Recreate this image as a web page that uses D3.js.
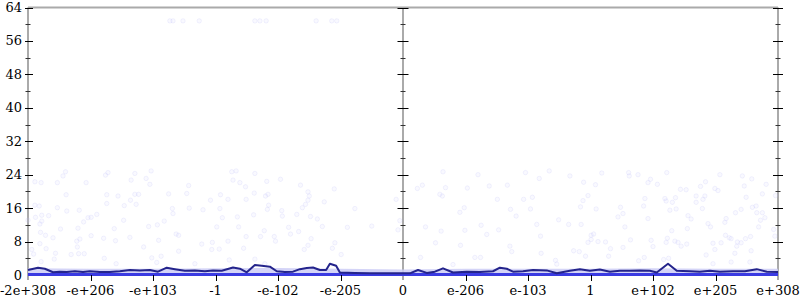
<!DOCTYPE html>
<html>
<head>
<meta charset="utf-8">
<script src="https://cdn.jsdelivr.net/npm/d3@7"></script>
<style>
  body { margin: 0; background: #fff; }
  svg text { font-family: "DejaVu Serif", serif; font-size: 13px; fill: #000; }
</style>
</head>
<body>
<svg id="chart" width="800" height="300"></svg>
<script>
// x position is in tick units: -6 (-2e+308) ... 0 ... 6 (e+308)
var xTickLabels = ['-2e+308', '-e+206', '-e+103', '-1', '-e-102', '-e-205', '0',
                   'e-206', 'e-103', '1', 'e+102', 'e+205', 'e+308'];
var yTicks = [0, 8, 16, 24, 32, 40, 48, 56, 64];
var yMinorTicks = [4, 12, 20, 28, 36, 44, 52, 60];

// running mean (dark line)
var meanX = [-6.0, -5.84, -5.73, -5.6, -5.49, -5.38, -5.25, -5.12, -5.01, -4.85, -4.69, -4.53, -4.37,
             -4.21, -4.05, -3.92, -3.78, -3.65, -3.49, -3.33, -3.17, -3.04, -2.9, -2.72, -2.61, -2.5,
             -2.37, -2.26, -2.13, -2.02, -1.89, -1.76, -1.65, -1.54, -1.44, -1.33, -1.23, -1.17, -1.07,
             -1.01, -0.77, -0.53, -0.29, -0.05, 0.11, 0.24, 0.38, 0.51, 0.64, 0.8, 1.02, 1.23, 1.44,
             1.55, 1.66, 1.76, 1.92, 2.08, 2.3, 2.46, 2.67, 2.83, 2.99, 3.15, 3.31, 3.47, 3.63, 3.79,
             3.95, 4.06, 4.24, 4.38, 4.59, 4.75, 4.91, 5.07, 5.28, 5.47, 5.66, 5.82, 6.0];
var meanY = [1.2, 1.75, 1.5, 0.65, 0.8, 0.7, 0.9, 0.7, 0.9, 0.7, 0.7, 0.9, 1.2,
             1.1, 1.2, 0.8, 1.75, 1.4, 1.0, 1.1, 0.9, 1.1, 1.0, 1.8, 1.5, 0.65,
             2.4, 2.2, 2.0, 0.9, 0.7, 0.8, 1.4, 1.7, 1.8, 1.2, 1.2, 2.7, 2.2,
             0.6, 0.5, 0.4, 0.4, 0.4, 0.4, 1.2, 0.5, 0.8, 1.6, 0.6, 0.8, 0.7, 0.9,
             1.75, 1.5, 0.8, 0.9, 1.2, 1.1, 0.4, 1.0, 1.4, 1.0, 1.3, 0.8, 1.0, 1.0, 1.1,
             1.0, 0.6, 2.7, 1.0, 0.9, 0.8, 1.0, 0.8, 0.9, 0.9, 1.4, 0.8, 0.7];

// top of the dense band of samples near zero
var bandX = [-6, -5, -4, -3, -2, -1, 0, 1, 2, 3, 4, 5, 6];
var bandY = [1.6, 1.5, 1.5, 1.6, 1.7, 1.5, 1.3, 1.5, 1.5, 1.5, 1.6, 1.5, 1.5];

// scattered samples
var dotX = [-5.40, -5.44, -5.89, -5.79, -5.53, -5.07, -4.76, -4.72, -4.29, -4.11, -4.03, -4.35, -4.05,
  -3.43, -2.74, -2.67, -2.37, -2.72, -2.61, -2.52, -2.18, -1.96, -1.64, -1.10, -1.52, -1.50,
  -5.39, -4.74, -4.56, -4.29, -4.23, -3.75, -3.46, -2.92, -3.08, -2.80, -2.51, -2.38, -2.20,
  -2.16, -2.15, -1.52, -1.56, -1.26, -0.11, -5.89, -5.82, -5.53, -5.18, -5.38, -4.74, -4.46,
  -4.36, -4.27, -3.69, -3.42, -3.20, -2.93, -2.17, -1.94, -1.61, -0.77, -5.78, -5.67, -5.88,
  -5.78, -5.81, -6.0, -5.11, -5.04, -4.99, -4.90, -4.47, -3.68, -3.82, -3.93, -4.07, -2.89,
  -2.65, -2.39, -1.93, -1.70, -1.48, -1.37, -1.29, -0.89, -0.50, -0.05, -0.08, -5.80, -5.72,
  -5.48, -5.20, -5.60, -4.99, -4.62, -4.37, -4.79, -4.60, -5.17, -5.22, -3.91, -3.63, -3.59,
  -2.98, -2.63, -2.22, -2.51, -2.28, -2.06, -1.83, -1.80, -1.67, -1.47, -2.04, -2.80, -3.05,
  -3.22, -1.52, -1.09, -1.13, -1.58, -5.81, -5.94, -5.71, -5.56, -5.58, -5.91, -5.79, -5.31,
  -5.19, -5.10, -5.21, -4.78, -4.59, -4.15, -4.02, -3.87, -3.94, -3.59, -3.33, -3.06, -2.94,
  -2.55, -2.78, -2.37, -2.21, -0.99,
  -3.73, -3.68, -3.52, -3.26, -2.37, -2.29, -2.19, -1.39, -1.14, -1.06,
  0.64, 1.20, 1.96, 2.34, 2.18, 2.67, 3.18, 3.61, 3.62, 3.76, 4.22, 5.07, 5.43, 5.58, 5.81,
  0.23, 0.31, 0.68, 1.03, 1.38, 1.67, 2.89, 3.08, 3.92, 3.96, 4.07, 4.44, 4.53, 4.76, 4.84,
  4.99, 5.04, 5.46, 0.59, 0.63, 1.51, 1.93, 2.07, 2.88, 2.96, 2.84, 3.09, 3.48, 3.85, 3.87,
  4.19, 4.21, 4.31, 4.36, 4.27, 4.37, 4.69, 4.69, 4.80, 4.83, 4.79, 5.49, 5.75, 5.96, 5.59,
  5.65, 5.66, 5.75, 5.72, 5.79, 5.41, 5.32, 0.91, 0.98, 1.72, 2.04, 1.81, 2.49, 2.65, 2.85,
  3.44, 3.52, 3.55, 3.92, 4.56, 4.61, 4.55, 4.88, 4.92, 5.15, 5.17, 5.69, 5.93, 0.36, 0.61,
  0.99, 1.25, 1.34, 1.53, 2.14, 2.20, 3.01, 3.05, 3.01, 2.96, 3.12, 3.24, 3.64, 3.97, 4.00,
  4.23, 4.30, 4.21, 4.35, 4.40, 4.45, 4.54, 4.96, 5.09, 5.16, 5.22, 5.25, 5.35, 5.41, 5.48,
  5.56, 5.95, 5.57, 0.52, 0.92, 1.71, 1.74, 2.21, 2.73, 2.82, 2.92, 3.32, 3.52, 3.29, 3.77,
  3.86, 4.17, 4.25, 4.85, 4.99, 5.31, 5.34, 4.96, 5.25, 5.55, 0.28, 1.15, 1.24, 0.80, 2.44, 2.46];
var dotY = [24.7, 23.7, 22.3, 22.1, 22.1, 22.1, 23.9, 24.5, 24.3, 23.1, 24.9, 22.7, 21.7,
  21.4, 24.7, 24.9, 24.3, 22.7, 22.1, 21.1, 22.4, 22.9, 21.5, 20.6, 19.9, 18.9,
  19.2, 19.2, 18.9, 19.3, 19.3, 19.4, 19.5, 19.2, 17.9, 18.1, 18.1, 19.6, 18.9,
  19.3, 16.7, 17.9, 16.9, 17.5, 18.1, 16.7, 16.5, 16.1, 15.5, 15.3, 17.1, 16.6,
  17.9, 16.9, 15.9, 16.0, 15.6, 15.9, 15.7, 15.4, 16.1, 15.9, 14.3, 14.2, 13.8,
  12.9, 12.2, 13.1, 12.7, 13.7, 13.8, 14.5, 13.1, 14.7, 12.9, 12.0, 11.6, 13.7,
  13.9, 14.4, 14.1, 14.5, 14.0, 13.4, 11.6, 11.4, 11.7, 13.0, 10.8, 10.2, 9.5,
  11.0, 11.2, 8.9, 9.4, 11.1, 9.0, 8.8, 8.2, 8.6, 8.1, 8.3, 9.8, 9.5,
  11.5, 11.5, 10.6, 9.2, 9.2, 9.2, 11.4, 9.8, 10.4, 8.7, 8.1, 8.1, 7.8,
  7.4, 7.1, 7.7, 6.4, 6.1, 7.5, 6.1, 6.3, 5.2, 3.8, 5.0, 3.2, 4.9,
  5.1, 5.1, 6.7, 4.0, 2.7, 6.7, 4.1, 4.5, 3.0, 5.7, 2.7, 6.1, 6.2,
  6.4, 3.6, 3.8, 2.7, 4.9,
  60.8, 60.8, 60.8, 60.8, 60.8, 60.8, 60.8, 60.8, 60.8, 60.8,
  24.7, 24.0, 24.5, 24.9, 23.1, 23.7, 24.4, 24.5, 23.7, 24.0, 24.5, 24.0, 23.7, 23.0, 21.7,
  20.7, 21.5, 20.9, 20.8, 21.3, 21.5, 22.2, 21.6, 22.1, 22.9, 21.7, 20.5, 20.4, 21.2, 22.3,
  20.7, 20.2, 21.3, 19.3, 18.9, 18.1, 18.1, 18.6, 17.8, 19.0, 16.3, 15.8, 16.2, 16.5, 18.3,
  18.3, 17.7, 17.4, 18.5, 15.5, 15.8, 18.9, 17.4, 18.1, 18.9, 15.9, 18.6, 19.4, 19.0, 16.2,
  16.5, 14.9, 14.9, 13.1, 13.7, 15.7, 14.9, 15.0, 16.1, 15.7, 15.8, 14.1, 13.2, 12.1, 12.1,
  13.9, 14.7, 11.5, 13.5, 14.2, 13.4, 11.1, 12.3, 11.5, 12.6, 13.5, 11.5, 10.9, 11.5, 10.5,
  10.7, 11.9, 9.7, 10.8, 12.1, 9.3, 9.5, 9.8, 8.5, 7.8, 8.0, 7.9, 8.4, 8.3, 6.8,
  8.8, 10.6, 7.8, 8.1, 7.8, 6.9, 7.4, 7.6, 7.7, 9.5, 8.9, 8.7, 7.9, 7.7, 8.7,
  9.2, 9.3, 5.8, 7.7, 7.1, 6.9, 5.6, 5.2, 5.8, 5.6, 4.5, 6.3, 6.6, 4.5, 3.4,
  4.2, 3.7, 4.0, 4.8, 6.1, 5.2, 6.9, 2.7, 3.1, 3.1, 4.2, 4.2, 4.2, 2.5, 3.5, 2.6];

var svg = d3.select('#chart');

var x = d3.scaleLinear().domain([-6, 6]).range([28, 778]);
var y = d3.scaleLinear().domain([0, 64]).range([275, 7.5]);

var dots = dotX.map(function(d, i) { return [d, dotY[i]]; });
var band = bandX.map(function(d, i) { return [d, bandY[i]]; });
var mean = meanX.map(function(d, i) { return [d, meanY[i]]; });

// frame lines (gray)
var frame = svg.append('g').attr('stroke', '#aaa').attr('stroke-width', 2);
frame.append('line').attr('x1', x(-6)).attr('x2', x(6)).attr('y1', y(64)).attr('y2', y(64));
[-6, 0, 6].forEach(function(v) {
  frame.append('line').attr('x1', x(v)).attr('x2', x(v)).attr('y1', y(64)).attr('y2', 280);
});

// scattered samples
svg.append('g').selectAll('circle').data(dots).enter()
  .append('circle')
    .attr('cx', function(d) { return x(d[0]); })
    .attr('cy', function(d) { return y(d[1]); })
    .attr('r', 2.2)
    .attr('fill', 'rgba(215,215,255,0.15)')
    .attr('stroke', 'rgba(180,180,245,0.17)')
    .attr('stroke-width', 1);

// dense band near zero
svg.append('path')
  .datum(band)
  .attr('fill', '#cdcdf6')
  .attr('opacity', 0.85)
  .attr('d', d3.area().x(function(d) { return x(d[0]); }).y0(y(0)).y1(function(d) { return y(d[1]); }));

svg.append('line')
  .attr('x1', x(-6)).attr('x2', x(6)).attr('y1', y(0) - 0.5).attr('y2', y(0) - 0.5)
  .attr('stroke', '#3a3ae2').attr('stroke-width', 3);

// running mean
svg.append('path')
  .datum(mean)
  .attr('fill', 'none')
  .attr('stroke', '#24248c')
  .attr('stroke-width', 2)
  .attr('stroke-linejoin', 'round')
  .attr('d', d3.line().x(function(d) { return x(d[0]); }).y(function(d) { return y(d[1]); }));

// y ticks on the three vertical axes
var ticks = svg.append('g').attr('stroke', '#000').attr('stroke-width', 1);
[[-6, 3, 5], [0, 5.5, 5.5], [6, 5, 5]].forEach(function(a) {
  var ax = Math.round(x(a[0]));
  yTicks.forEach(function(t) {
    if (t === 0) return;
    var ty = Math.round(y(t)) + 0.5;
    ticks.append('line').attr('x1', ax - a[1]).attr('x2', ax + a[2]).attr('y1', ty).attr('y2', ty);
  });
  yMinorTicks.forEach(function(t) {
    var ty = Math.round(y(t)) + 0.5;
    ticks.append('line').attr('x1', ax - 2.5).attr('x2', ax + 2.5).attr('y1', ty).attr('y2', ty)
      .attr('stroke', '#333');
  });
});

// x ticks
d3.range(-5, 6).forEach(function(v) {
  if (v === 0) return;
  var tx = Math.round(x(v)) + 0.5;
  ticks.append('line').attr('x1', tx).attr('x2', tx).attr('y1', y(0)).attr('y2', 281);
});

// y labels
svg.append('g').selectAll('text').data(yTicks).enter()
  .append('text')
    .attr('x', 22)
    .attr('y', function(d) { return y(d); })
    .attr('dy', '0.35em')
    .attr('text-anchor', 'end')
    .text(function(d) { return d; });

// x labels
svg.append('g').selectAll('text').data(xTickLabels).enter()
  .append('text')
    .attr('x', function(d, i) { return x(i - 6); })
    .attr('y', 295)
    .attr('text-anchor', 'middle')
    .text(function(d) { return d; });
</script>
</body>
</html>
